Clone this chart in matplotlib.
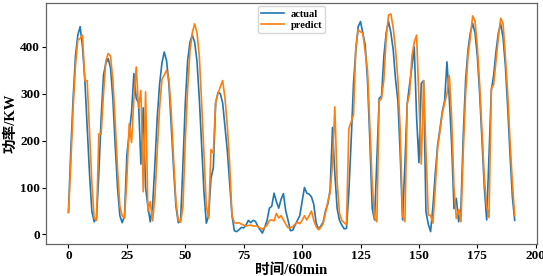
import matplotlib
matplotlib.use('Agg')
import numpy as np
import matplotlib.pyplot as plt

# hourly power, 16 days x 12 daytime points
actual = [47, 180, 290, 380, 425, 443, 400, 330, 230, 130, 50, 27,
          35, 130, 250, 340, 365, 375, 355, 290, 190, 100, 40, 25,
          40, 170, 215, 260, 343, 290, 280, 150, 270, 100, 60, 27,
          60, 150, 250, 320, 365, 389, 370, 320, 230, 140, 60, 25,
          30, 150, 280, 370, 410, 425, 410, 370, 290, 190, 90, 24,
          40, 120, 142, 280, 303, 300, 280, 230, 178, 110, 40, 8,
          6, 10, 15, 14, 20, 30, 25, 30, 28, 18, 10, 3,
          15, 30, 56, 60, 88, 70, 56, 75, 87, 50, 30, 8,
          9, 20, 30, 40, 70, 100, 88, 86, 80, 64, 25, 11,
          18, 26, 50, 65, 95, 228, 130, 55, 30, 20, 12, 13,
          90, 200, 322, 393, 443, 454, 429, 404, 328, 200, 56, 31,
          160, 290, 295, 380, 430, 454, 430, 393, 330, 285, 170, 31,
          150, 279, 320, 357, 400, 250, 153, 322, 328, 49, 22, 6,
          60, 130, 190, 225, 262, 285, 368, 290, 193, 55, 77, 27,
          60, 214, 330, 393, 430, 450, 430, 380, 300, 200, 100, 31,
          170, 307, 340, 390, 430, 449, 420, 360, 270, 170, 80, 30]

predict = [47, 150, 270, 360, 414, 418, 425, 328, 328, 220, 110, 35,
           30, 214, 214, 300, 370, 386, 380, 330, 240, 140, 60, 40,
           34, 120, 236, 196, 290, 357, 270, 307, 91, 304, 49, 70,
           29, 80, 180, 270, 330, 340, 350, 330, 260, 160, 70, 30,
           26, 60, 200, 310, 390, 430, 449, 430, 380, 280, 170, 60,
           34, 181, 173, 282, 300, 315, 328, 290, 230, 150, 40, 25,
           24, 25, 22, 20, 18, 19, 20, 18, 18, 17, 14, 11,
           15, 20, 30, 31, 29, 45, 35, 40, 31, 22, 14, 14,
           17, 22, 26, 23, 30, 40, 31, 40, 50, 30, 17, 10,
           15, 23, 45, 70, 90, 150, 272, 110, 45, 30, 25, 21,
           225, 240, 255, 400, 436, 432, 429, 390, 350, 230, 110, 35,
           27, 285, 290, 330, 420, 468, 470, 440, 393, 330, 220, 40,
           27, 279, 300, 380, 410, 425, 285, 150, 328, 180, 42, 40,
           24, 99, 185, 220, 257, 280, 300, 339, 250, 100, 34, 53,
           27, 180, 300, 380, 420, 466, 455, 400, 320, 220, 120, 60,
           36, 310, 320, 370, 420, 461, 450, 380, 300, 200, 110, 40]

t = np.arange(len(actual))

plt.rcParams['font.family'] = ['Liberation Serif', 'Noto Sans CJK SC']

fig = plt.figure(figsize=(5.43, 2.76), dpi=100)
ax = fig.add_axes([0.085, 0.116, 0.904, 0.873])

ax.plot(t, actual, color='#1f77b4', lw=1.2, label='actual')
ax.plot(t, predict, color='#ff7f0e', lw=1.2, label='predict')

ax.set_xticks([0, 25, 50, 75, 100, 125, 150, 175, 200])
ax.set_yticks([0, 100, 200, 300, 400])
ax.tick_params(labelsize=9.5, width=0.8, length=3, pad=1.5)
for lab in ax.get_xticklabels() + ax.get_yticklabels():
    lab.set_fontweight('bold')

ax.set_xlabel('时间/60min', fontsize=10.5, fontweight='bold')
ax.set_ylabel('功率/KW', fontsize=10.5, fontweight='bold')
ax.xaxis.set_label_coords(0.5, -0.08)
ax.yaxis.set_label_coords(-0.058, 0.5)

for s in ax.spines.values():
    s.set_color('#666666')
    s.set_linewidth(0.9)

leg = ax.legend(loc='upper center', handlelength=2.2,
                borderpad=0.3, labelspacing=0.2, handletextpad=0.6,
                borderaxespad=0.3, prop={'weight': 'bold', 'size': 7.5})

fig.savefig('out.png', dpi=100)
